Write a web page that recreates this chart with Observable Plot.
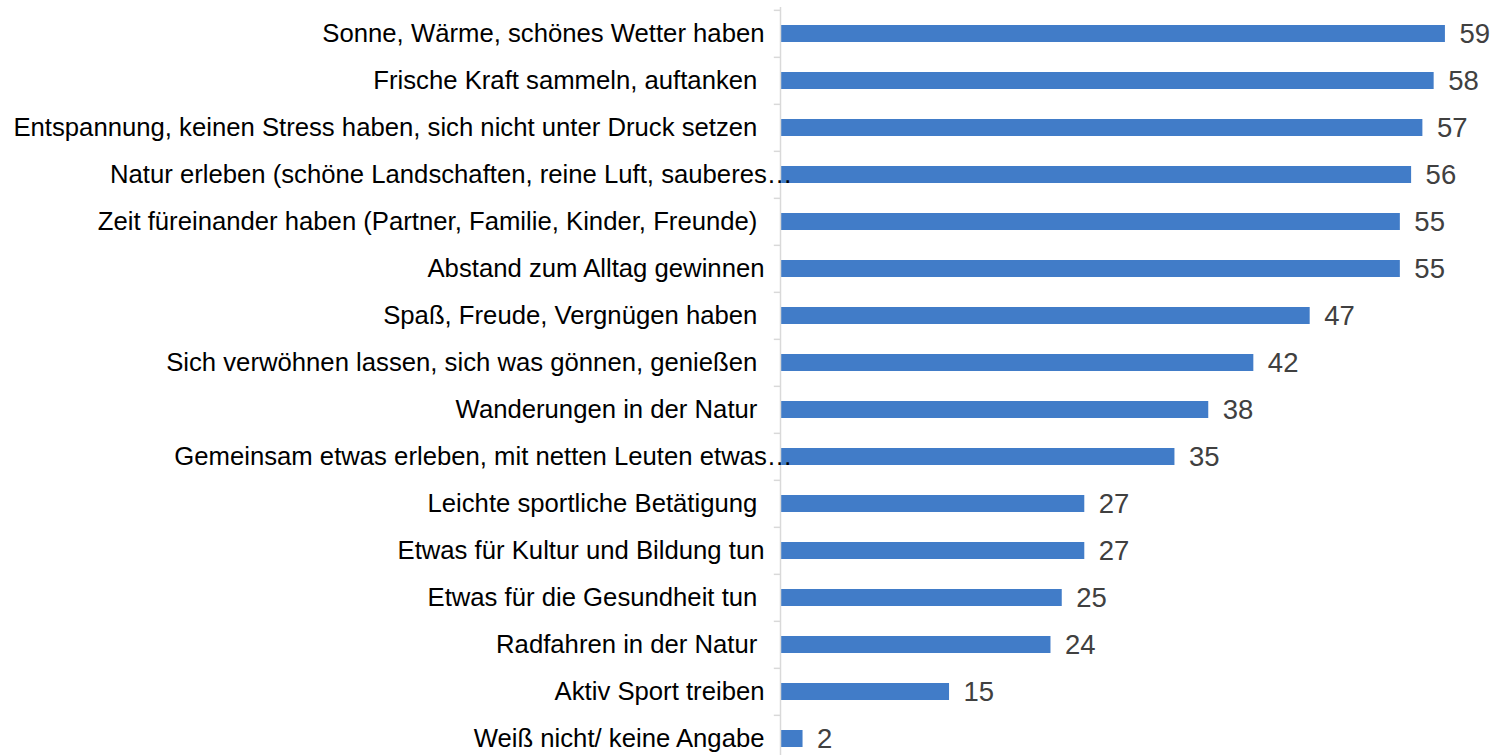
<!DOCTYPE html>
<html>
<head>
<meta charset="utf-8">
<script src="https://cdn.jsdelivr.net/npm/d3@7"></script>
<script src="https://cdn.jsdelivr.net/npm/@observablehq/plot@0.6"></script>
<style>
  html, body { margin: 0; padding: 0; background: #fff; overflow: hidden; }
  svg text { white-space: pre; }
</style>
</head>
<body>
<div id="chart"></div>
<script>
const categories = [
  "Sonne, Wärme, schönes Wetter haben",
  "Frische Kraft sammeln, auftanken ",
  "Entspannung, keinen Stress haben, sich nicht unter Druck setzen ",
  "Natur erleben (schöne Landschaften, reine Luft, sauberes…",
  "Zeit füreinander haben (Partner, Familie, Kinder, Freunde) ",
  "Abstand zum Alltag gewinnen",
  "Spaß, Freude, Vergnügen haben ",
  "Sich verwöhnen lassen, sich was gönnen, genießen ",
  "Wanderungen in der Natur ",
  "Gemeinsam etwas erleben, mit netten Leuten etwas…",
  "Leichte sportliche Betätigung ",
  "Etwas für Kultur und Bildung tun",
  "Etwas für die Gesundheit tun ",
  "Radfahren in der Natur ",
  "Aktiv Sport treiben",
  "Weiß nicht/ keine Angabe"
];
const values = [59, 58, 57, 56, 55, 55, 47, 42, 38, 35, 27, 27, 25, 24, 15, 2];

const data = categories.map((label, i) => ({label, value: values[i]}));
const truncated = data.filter(d => d.label.endsWith("…"));
const normal = data.filter(d => !d.label.endsWith("…"));

const W = 1493, H = 755;
const yRange = [7, 764];
const step = (yRange[1] - yRange[0]) / categories.length;

const chart = Plot.plot({
  width: W,
  height: H,
  marginTop: 7,
  marginBottom: 0,
  marginLeft: 0,
  marginRight: 0,
  style: {fontFamily: "Arial, 'Liberation Sans', sans-serif", background: "#fff"},
  x: {domain: [0, 63], range: [780, 1490], axis: null},
  y: {domain: categories, range: yRange, paddingInner: 0.64, paddingOuter: 0.32, axis: null},
  marks: [
    Plot.barX(data, {x: "value", y: "label", fill: "#417cc8"}),
    Plot.ruleX([0], {stroke: "#d9d9d9", strokeWidth: 1.5}),
    Plot.ruleY(categories, {y: d => d, x1: -0.55, x2: 0, dy: -step / 2, stroke: "#d9d9d9", strokeWidth: 1.5}),
    Plot.text(data, {x: "value", y: "label", text: d => String(d.value), textAnchor: "start", dx: 14, fontSize: 27.5, fill: "#404040"}),
    Plot.text(normal, {x: 0, y: "label", text: "label", textAnchor: "end", dx: -16, fontSize: 25.7, fill: "#000"}),
    Plot.text(truncated, {x: 0, y: "label", text: "label", textAnchor: "end", dx: 12, fontSize: 25.7, fill: "#000"})
  ]
});
document.getElementById("chart").appendChild(chart);
</script>
</body>
</html>
